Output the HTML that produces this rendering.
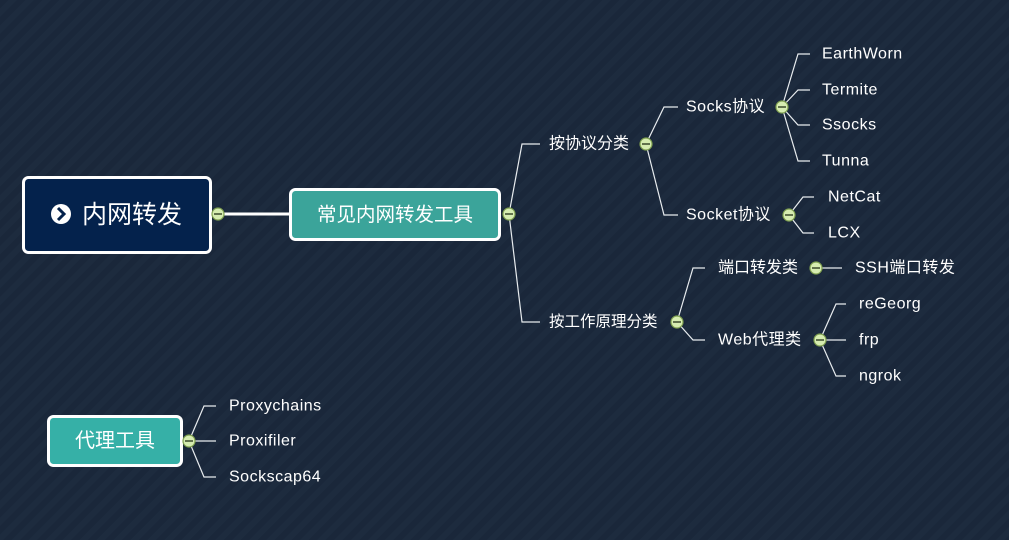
<!DOCTYPE html>
<html><head><meta charset="utf-8"><style>
html,body{margin:0;padding:0;background:#1c2a3d;}
svg{display:block}
text{font-family:"Liberation Sans","Noto Sans CJK SC",sans-serif;fill:#fff;dominant-baseline:central}
.c{letter-spacing:0}
</style></head><body>
<svg width="1009" height="540" viewBox="0 0 1009 540" xmlns="http://www.w3.org/2000/svg">
<defs>
<pattern id="p" width="12" height="12" patternUnits="userSpaceOnUse" patternTransform="rotate(45)">
<rect width="12" height="12" fill="#1d2b3e"/>
<rect width="6" height="12" fill="#19263a" opacity="0.8"/>
</pattern>
</defs>
<rect width="1009" height="540" fill="url(#p)"/>
<g stroke="#e8ecef" stroke-width="1.2" fill="none">
<path d="M509 214 L522 144 L540 144"/>
<path d="M509 214 L522 322 L540 322"/>
<path d="M646 144 L664 107 L678 107"/>
<path d="M646 144 L664 215 L678 215"/>
<path d="M782 107 L798 54 L810 54"/>
<path d="M782 107 L798 90 L810 90"/>
<path d="M782 107 L798 125 L810 125"/>
<path d="M782 107 L798 161 L810 161"/>
<path d="M789 215 L803 197 L814 197"/>
<path d="M789 215 L803 233 L814 233"/>
<path d="M677 322 L693 268 L705 268"/>
<path d="M677 322 L693 340 L705 340"/>
<path d="M816 268 L842 268"/>
<path d="M820 340 L836 304 L846 304"/>
<path d="M820 340 L846 340"/>
<path d="M820 340 L836 376 L846 376"/>
<path d="M189 441 L204 406 L216 406"/>
<path d="M189 441 L216 441"/>
<path d="M189 441 L204 477 L216 477"/>
</g>
<line x1="218" y1="214" x2="290" y2="214" stroke="#fff" stroke-width="3"/>
<rect x="23.5" y="177.5" width="187" height="75" rx="5" fill="#04224c" stroke="#fff" stroke-width="3"/>
<circle cx="61" cy="214" r="10" fill="#fff"/>
<path d="M58 208 L64 214 L58 220" stroke="#04224c" stroke-width="3" fill="none"/>
<text x="82" y="215" font-size="25">内网转发</text>
<rect x="290.5" y="189.5" width="209" height="50" rx="5" fill="#3ba49a" stroke="#fff" stroke-width="3"/>
<text x="395" y="215" font-size="19.5" text-anchor="middle">常见内网转发工具</text>
<rect x="48.5" y="416.5" width="133" height="49" rx="5" fill="#36b0a7" stroke="#fff" stroke-width="3"/>
<text x="115" y="441" font-size="20" text-anchor="middle">代理工具</text>
<g font-size="16" letter-spacing="0.5">
<text x="549" y="144" class="c">按协议分类</text>
<text x="549" y="322" class="c" font-size="15.5">按工作原理分类</text>
<text x="686" y="107">Socks协议</text>
<text x="686" y="215">Socket协议</text>
<text x="822" y="54">EarthWorn</text>
<text x="822" y="90">Termite</text>
<text x="822" y="125">Ssocks</text>
<text x="822" y="161">Tunna</text>
<text x="828" y="197">NetCat</text>
<text x="828" y="233">LCX</text>
<text x="718" y="268" class="c">端口转发类</text>
<text x="718" y="340">Web代理类</text>
<text x="855" y="268">SSH端口转发</text>
<text x="859" y="304">reGeorg</text>
<text x="859" y="340">frp</text>
<text x="859" y="376">ngrok</text>
<text x="229" y="406">Proxychains</text>
<text x="229" y="441">Proxifiler</text>
<text x="229" y="477">Sockscap64</text>
</g>
<g stroke="#7fa050" stroke-width="1.2" fill="#d6ecb0">
<circle cx="218" cy="214" r="6"/>
<circle cx="509" cy="214" r="6"/>
<circle cx="646" cy="144" r="6"/>
<circle cx="782" cy="107" r="6"/>
<circle cx="789" cy="215" r="6"/>
<circle cx="677" cy="322" r="6"/>
<circle cx="816" cy="268" r="6"/>
<circle cx="820" cy="340" r="6"/>
<circle cx="189" cy="441" r="6"/>
</g>
<g stroke="#3a4a2a" stroke-width="1.5">
<line x1="214" y1="214" x2="222" y2="214"/>
<line x1="505" y1="214" x2="513" y2="214"/>
<line x1="642" y1="144" x2="650" y2="144"/>
<line x1="778" y1="107" x2="786" y2="107"/>
<line x1="785" y1="215" x2="793" y2="215"/>
<line x1="673" y1="322" x2="681" y2="322"/>
<line x1="812" y1="268" x2="820" y2="268"/>
<line x1="816" y1="340" x2="824" y2="340"/>
<line x1="185" y1="441" x2="193" y2="441"/>
</g>
</svg>
</body></html>
